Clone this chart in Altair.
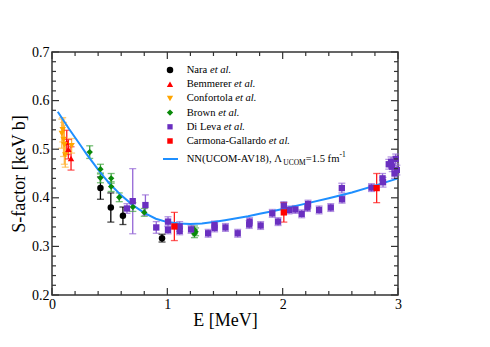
import altair as alt
import pandas as pd

# ---------------- data ----------------
series_names = ["Nara", "Bemmerer", "Confortola", "Brown", "Di Leva", "Carmona-Gallardo"]

nara_E = [0.42, 0.51, 0.615, 0.954]
nara_S = [0.420, 0.380, 0.363, 0.317]
nara_err = [0.023, 0.030, 0.018, 0.008]

bemmerer_E = [0.128, 0.142, 0.165]
bemmerer_S = [0.514, 0.500, 0.481]
bemmerer_err = [0.025, 0.020, 0.024]

confortola_E = [0.085, 0.093, 0.100, 0.107, 0.115, 0.170]
confortola_S = [0.532, 0.540, 0.520, 0.509, 0.488, 0.507]
confortola_err = [0.030, 0.025, 0.035, 0.040, 0.025, 0.015]

brown_E = [0.327, 0.420, 0.420, 0.513, 0.513, 0.583, 0.701, 0.800, 1.235, 1.235, 1.245]
brown_S = [0.494, 0.459, 0.441, 0.440, 0.423, 0.401, 0.381, 0.370, 0.334, 0.326, 0.330]
brown_err = [0.013, 0.010, 0.010, 0.010, 0.010, 0.009, 0.009, 0.008, 0.008, 0.008, 0.008]

dileva_E = [0.65, 0.70, 0.81, 0.904, 1.006, 1.006, 1.107, 1.107, 1.206, 1.354, 1.409,
            1.41, 1.504, 1.61, 1.713, 1.71, 1.809, 1.91, 1.96, 2.01, 2.055, 2.11, 2.165,
            2.215, 2.22, 2.316, 2.417, 2.513, 2.515, 2.77, 2.866, 2.87, 2.92, 2.95, 2.94,
            2.97, 2.99, 2.98]
dileva_S = [0.378, 0.393, 0.385, 0.339, 0.351, 0.334, 0.341, 0.332, 0.335, 0.327, 0.344,
            0.338, 0.339, 0.327, 0.351, 0.345, 0.343, 0.368, 0.351, 0.384, 0.375, 0.376, 0.367,
            0.380, 0.387, 0.375, 0.380, 0.420, 0.397, 0.421, 0.440, 0.432, 0.469, 0.464, 0.474,
            0.450, 0.457, 0.480]
dileva_err = [0.010, 0.067, 0.021, 0.012, 0.010, 0.008, 0.010, 0.008, 0.008, 0.008, 0.008,
              0.008, 0.008, 0.008, 0.008, 0.008, 0.008, 0.008, 0.008, 0.008, 0.008, 0.008, 0.008,
              0.008, 0.008, 0.008, 0.008, 0.010, 0.008, 0.008, 0.010, 0.010, 0.010, 0.010, 0.010,
              0.010, 0.010, 0.010]

carmona_E = [1.061, 2.010, 2.815]
carmona_S = [0.341, 0.370, 0.420]
carmona_err = [0.029, 0.020, 0.030]

curve_E = [0.05, 0.1, 0.15, 0.2, 0.25, 0.3, 0.35, 0.4, 0.45, 0.5, 0.6, 0.7, 0.8, 0.9, 1.0,
           1.1, 1.2, 1.3, 1.4, 1.5, 1.6, 1.7, 1.8, 1.9, 2.0, 2.2, 2.4, 2.6, 2.8, 3.0]
curve_S = [0.577, 0.559, 0.541, 0.524, 0.507, 0.490, 0.474, 0.458, 0.443, 0.429, 0.405,
           0.385, 0.369, 0.357, 0.350, 0.347, 0.346, 0.347, 0.350, 0.354, 0.358, 0.362,
           0.367, 0.372, 0.377, 0.388, 0.399, 0.411, 0.425, 0.440]

x_major = [0, 1, 2, 3]
x_minor = [0.2, 0.4, 0.6, 0.8, 1.2, 1.4, 1.6, 1.8, 2.2, 2.4, 2.6, 2.8]
y_major = [0.2, 0.3, 0.4, 0.5, 0.6, 0.7]
y_minor = [0.22, 0.24, 0.26, 0.28, 0.32, 0.34, 0.36, 0.38, 0.42, 0.44, 0.46, 0.48,
           0.52, 0.54, 0.56, 0.58, 0.62, 0.64, 0.66, 0.68]

# ---------------- tables ----------------
groups = [
    ("Nara", nara_E, nara_S, nara_err),
    ("Bemmerer", bemmerer_E, bemmerer_S, bemmerer_err),
    ("Confortola", confortola_E, confortola_S, confortola_err),
    ("Brown", brown_E, brown_S, brown_err),
    ("Di Leva", dileva_E, dileva_S, dileva_err),
    ("Carmona-Gallardo", carmona_E, carmona_S, carmona_err),
]
rows = []
for name, E, S, err in groups:
    for e, s, d in zip(E, S, err):
        rows.append({"series": name, "E": e, "S": s, "lo": s - d, "hi": s + d})
pts = pd.DataFrame(rows)
caps = pd.concat([
    pts[["series", "E", "lo"]].rename(columns={"lo": "c"}),
    pts[["series", "E", "hi"]].rename(columns={"hi": "c"}),
])
curve = pd.DataFrame({"E": curve_E, "S": curve_S})

# ---------------- styles ----------------
W, H = 346, 243
FONT = "Liberation Serif"
FRAME = "#333333"
point_colors = ["#000000", "#FF0000", "#FFA500", "#0A8A0A", "#6A2FC0", "#FF0000"]
err_colors = ["#000000", "#FF1A1A", "#FFB640", "#3DA33D", "#9466D6", "#FF1A1A"]
shapes = ["circle", "triangle-up", "triangle-down", "diamond", "square", "square"]
sizes = [42, 40, 40, 40, 28, 30]
CURVE = "#1E8FFF"

xs = alt.Scale(domain=[0, 3], nice=False, zero=False)
ys = alt.Scale(domain=[0.2, 0.7], nice=False, zero=False)
xaxis = alt.Axis(title="E [MeV]", values=x_major, format="d", ticks=False, tickSize=0,
                 domain=False, grid=False, labelFlush=False, labelOverlap=False,
                 labelPadding=2, titlePadding=0,
                 labelFont=FONT, labelFontSize=14, labelColor="black",
                 titleFont=FONT, titleFontSize=18, titleFontWeight="normal", titleColor="black")
yaxis = alt.Axis(title="S-factor [keV b]", values=y_major, format=".1f", ticks=False,
                 tickSize=0, domain=False, grid=False, labelOverlap=False,
                 labelPadding=3, titlePadding=3,
                 labelFont=FONT, labelFontSize=14, labelColor="black",
                 titleFont=FONT, titleFontSize=18, titleFontWeight="normal", titleColor="black")


def X(f):
    return alt.X(f, type="quantitative", scale=xs, axis=xaxis)


def Y(f):
    return alt.Y(f, type="quantitative", scale=ys, axis=yaxis)


layers = []

# error bars
layers.append(alt.Chart(pts).mark_rule(strokeWidth=1.3).encode(
    x=X("E"), y=Y("lo"), y2="hi",
    stroke=alt.Stroke("series:N", scale=alt.Scale(domain=series_names, range=err_colors), legend=None)))
layers.append(alt.Chart(caps).mark_tick(orient="horizontal", size=7, thickness=1.3).encode(
    x=X("E"), y=Y("c"),
    fill=alt.Fill("series:N", scale=alt.Scale(domain=series_names, range=err_colors), legend=None)))

# theory curve
layers.append(alt.Chart(curve).mark_line(color=CURVE, strokeWidth=2).encode(x=X("E"), y=Y("S")))

# data points
layers.append(alt.Chart(pts).mark_point(filled=True, opacity=1, strokeWidth=0).encode(
    x=X("E"), y=Y("S"),
    color=alt.Color("series:N", scale=alt.Scale(domain=series_names, range=point_colors), legend=None),
    shape=alt.Shape("series:N", scale=alt.Scale(domain=series_names, range=shapes), legend=None),
    size=alt.Size("series:N", scale=alt.Scale(domain=series_names, range=sizes), legend=None)))

# inward ticks on all four sides
def xticks(vals, length):
    d = pd.DataFrame({"v": vals})
    bot = alt.Chart(d).mark_rule(color=FRAME, strokeWidth=1.2).encode(
        x=X("v"), y=alt.value(H), y2=alt.value(H - length))
    top = alt.Chart(d).mark_rule(color=FRAME, strokeWidth=1.2).encode(
        x=X("v"), y=alt.value(0), y2=alt.value(length))
    return [bot, top]


def yticks(vals, length):
    d = pd.DataFrame({"v": vals})
    lef = alt.Chart(d).mark_rule(color=FRAME, strokeWidth=1.2).encode(
        y=Y("v"), x=alt.value(0), x2=alt.value(length))
    rig = alt.Chart(d).mark_rule(color=FRAME, strokeWidth=1.2).encode(
        y=Y("v"), x=alt.value(W), x2=alt.value(W - length))
    return [lef, rig]


layers += xticks(x_major, 7) + xticks(x_minor, 4) + yticks(y_major, 7) + yticks(y_minor, 4)

# ---------------- legend (inside the plot) ----------------
TW = {' ': 250, '(': 333, ')': 333, ',': 250, '-': 333, '.': 250, '=': 564,
      'A': 722, 'B': 667, 'C': 667, 'D': 722, 'G': 722, 'L': 611, 'M': 889, 'N': 722,
      'O': 722, 'U': 722, 'V': 722, 'Λ': 722, 'a': 444, 'b': 500, 'c': 444, 'd': 500,
      'e': 444, 'f': 333, 'i': 278, 'l': 278, 'm': 778, 'n': 500, 'o': 500, 'r': 333,
      's': 389, 't': 278, 'v': 500, 'w': 722}


def tw(s, fs):
    return sum(TW.get(ch, 500) for ch in s) * fs / 1000.0


one = pd.DataFrame({"d": [0]})
LFS = 10.6
sym_x, txt_x = 118, 134.7
for i, name in enumerate(series_names):
    yy = 18 + 14.2 * i
    layers.append(alt.Chart(one).mark_point(
        filled=True, opacity=1, strokeWidth=0, shape=shapes[i], size=sizes[i],
        color=point_colors[i]).encode(x=alt.value(sym_x), y=alt.value(yy)))
    layers.append(alt.Chart(one).mark_text(
        text=name, align="left", baseline="middle", font=FONT, fontSize=LFS,
        color="black").encode(x=alt.value(txt_x), y=alt.value(yy)))
    layers.append(alt.Chart(one).mark_text(
        text="et al.", align="left", baseline="middle", font=FONT, fontSize=LFS,
        fontStyle="italic", color="black").encode(
        x=alt.value(txt_x + tw(name + " ", LFS)), y=alt.value(yy)))

ny = 107
layers.append(alt.Chart(one).mark_rule(color=CURVE, strokeWidth=2).encode(
    x=alt.value(111), x2=alt.value(126), y=alt.value(ny)))
p1 = "NN(UCOM-AV18), Λ"
sub = "UCOM"
p2 = "=1.5 fm"
sup = "-1"
SFS = 7.5
x1 = txt_x
x2 = x1 + tw(p1, LFS)
x3 = x2 + tw(sub, SFS)
x4 = x3 + tw(p2, LFS)
for txt, xx, dy, fs in [(p1, x1, 0, LFS), (sub, x2, 3.5, SFS), (p2, x3, 0, LFS), (sup, x4, -4, SFS)]:
    layers.append(alt.Chart(one).mark_text(
        text=txt, align="left", baseline="middle", font=FONT, fontSize=fs,
        color="black").encode(x=alt.value(xx), y=alt.value(ny + dy)))

chart = alt.layer(*layers).properties(
    width=W, height=H,
    autosize=alt.AutoSizeParams(type="none"),
    padding={"left": 44, "top": 44, "right": 60, "bottom": 40},
).configure_view(
    stroke=FRAME, strokeWidth=1.5
).configure_axis(
    labelFont=FONT, labelFontSize=14, labelColor="black",
    titleFont=FONT, titleFontSize=18, titleFontWeight="normal", titleColor="black"
).configure_text(font=FONT)

chart.save("out.html", embed_options={"renderer": "svg", "actions": False})
